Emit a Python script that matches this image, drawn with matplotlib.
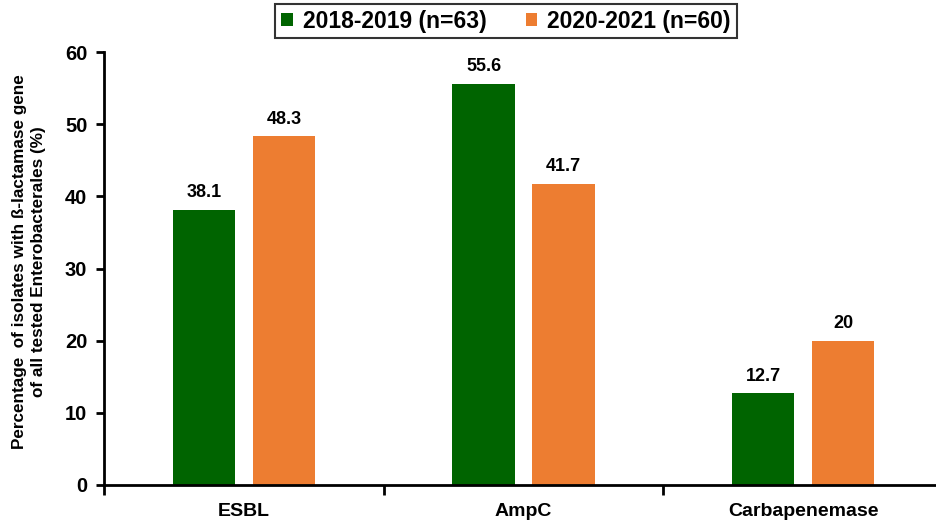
import numpy as np
import matplotlib
matplotlib.use('Agg')
import matplotlib.pyplot as plt

plt.rcParams['font.family'] = ['Liberation Sans', 'DejaVu Sans']
plt.rcParams['font.weight'] = 'bold'

categories = ['ESBL', 'AmpC', 'Carbapenemase']
series_names = ['2018-2019 (n=63)', '2020-2021 (n=60)']
vals_1819 = [38.1, 55.6, 12.7]
vals_2021 = [48.3, 41.7, 20]
labels_1819 = ['38.1', '55.6', '12.7']
labels_2021 = ['48.3', '41.7', '20']

green = '#006400'
orange = '#ED7D31'

fig = plt.figure(figsize=(9.36, 5.21), dpi=100)
ax = fig.add_axes([104/936, 36/521, 832/936, 433/521])

x = np.arange(len(categories))
w = 0.2225
off = 0.143
b1 = ax.bar(x - off, vals_1819, w, color=green, label=series_names[0])
b2 = ax.bar(x + off, vals_2021, w, color=orange, label=series_names[1])

for bars, labs in [(b1, labels_1819), (b2, labels_2021)]:
    for r, t in zip(bars, labs):
        ax.text(r.get_x() + r.get_width()/2, r.get_height() + 1.2, t,
                ha='center', va='bottom', fontsize=13, fontweight='bold')

ax.set_xlim(-0.5, 2.475)
ax.set_ylim(0, 60)
ax.set_yticks(np.arange(0, 61, 10))
ax.tick_params(axis='y', labelsize=14.5, width=2, length=6, direction='out', pad=6)

ax.set_xticks(x)
ax.set_xticklabels(categories, fontsize=14, fontweight='bold')
ax.tick_params(axis='x', which='major', length=0, pad=13)
ax.set_xticks([-0.5, 0.5, 1.5], minor=True)
ax.tick_params(axis='x', which='minor', length=7, width=2)

for s in ['top', 'right']:
    ax.spines[s].set_visible(False)
for s in ['left', 'bottom']:
    ax.spines[s].set_linewidth(2)

ax.set_ylabel('Percentage  of isolates with ß-lactamase gene\nof all tested Enterobacterales (%)',
              fontsize=12.3, fontweight='bold', linespacing=1.35)
ax.yaxis.set_label_coords(-0.0697, 0.515)

leg = fig.legend(loc='upper center', bbox_to_anchor=(506/936, 1 - 4/521), ncol=2,
                 fontsize=16.5, frameon=True, fancybox=False, edgecolor='black',
                 handlelength=0.5, handleheight=0.5, handletextpad=0.45, columnspacing=1.7,
                 borderpad=0.25, borderaxespad=0)
leg.get_frame().set_linewidth(1.5)

fig.savefig('out.png', dpi=100)
